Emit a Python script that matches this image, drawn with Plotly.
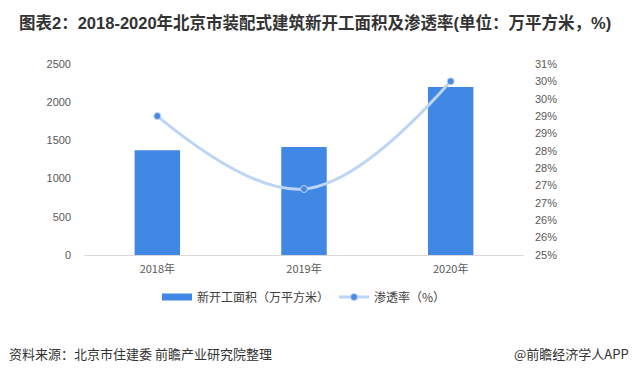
import plotly.graph_objects as go

years = ["2018年", "2019年", "2020年"]
area = [1372, 1412, 2198]          # 新开工面积（万平方米）
rate = [29.0, 26.9, 30.0]          # 渗透率（%）
rate_ticks = [25, 25.5, 26, 26.5, 27, 27.5, 28, 28.5, 29, 29.5, 30, 30.5]
rate_tick_text = ["25%", "26%", "26%", "27%", "27%", "28%", "28%", "29%", "29%", "30%", "30%", "31%"]
area_ticks = [0, 500, 1000, 1500, 2000, 2500]

FONT = "Liberation Sans, Noto Sans CJK SC, sans-serif"
CJK = "Noto Sans CJK SC, Liberation Sans, sans-serif"
BAR_COLOR = "#4187e4"
LINE_COLOR = "#bcd5f6"

fig = go.Figure()
fig.add_trace(go.Bar(
    x=years, y=area, name="新开工面积（万平方米）",
    marker=dict(color=BAR_COLOR, line=dict(width=0)),
    width=0.31, yaxis="y", showlegend=False,
))
# legend proxy for the bar series (wide flat swatch)
fig.add_trace(go.Scatter(
    x=[None], y=[None], mode="lines", name="新开工面积（万平方米）",
    line=dict(color=BAR_COLOR, width=7), yaxis="y",
))
fig.add_trace(go.Scatter(
    x=years, y=rate, name="渗透率（%）", yaxis="y2",
    mode="lines+markers",
    line=dict(color=LINE_COLOR, width=3, shape="spline", smoothing=1.1),
    marker=dict(color="#4a8ae2", size=7, line=dict(color=LINE_COLOR, width=1)),
))

fig.update_layout(
    width=633, height=373,
    margin=dict(l=84, r=109, t=64, b=118),
    paper_bgcolor="white", plot_bgcolor="white",
    font=dict(family=FONT, size=11, color="#595959"),
    showlegend=True,
    legend=dict(orientation="h", x=0.5, xanchor="center", y=-0.22, yanchor="middle",
                font=dict(family=CJK, size=12, color="#404040"),
                traceorder="normal"),
    xaxis=dict(showline=True, linecolor="#d9d9d9", linewidth=1, ticks="",
               showgrid=False, ticklabelstandoff=4,
               tickfont=dict(family=CJK, size=11, color="#595959")),
    yaxis=dict(range=[0, 2500], tickvals=area_ticks, showgrid=False, zeroline=False,
               showline=False, ticks="", ticklabelstandoff=12),
    yaxis2=dict(range=[25, 30.5], tickvals=rate_ticks, ticktext=rate_tick_text,
                overlaying="y", side="right", showgrid=False, zeroline=False,
                showline=False, ticks="", ticklabelstandoff=10),
    annotations=[
        dict(text="<b>图表2：2018-2020年北京市装配式建筑新开工面积及渗透率(单位：万平方米，%)</b>",
             xref="paper", yref="paper", x=-0.152, y=1.0, xanchor="left", yanchor="middle",
             yshift=42, showarrow=False, font=dict(family=FONT, size=16.5, color="#333333")),
        dict(text="资料来源：北京市住建委 前瞻产业研究院整理", xref="paper", yref="paper",
             x=-0.175, y=0, yshift=-98, xanchor="left", yanchor="middle", showarrow=False,
             font=dict(family=CJK, size=13, color="#333333")),
        dict(text="@前瞻经济学人APP", xref="paper", yref="paper",
             x=1.243, y=0, yshift=-98, xanchor="right", yanchor="middle", showarrow=False,
             font=dict(family=CJK, size=13, color="#333333")),
    ],
)

fig.write_html("out.html")
